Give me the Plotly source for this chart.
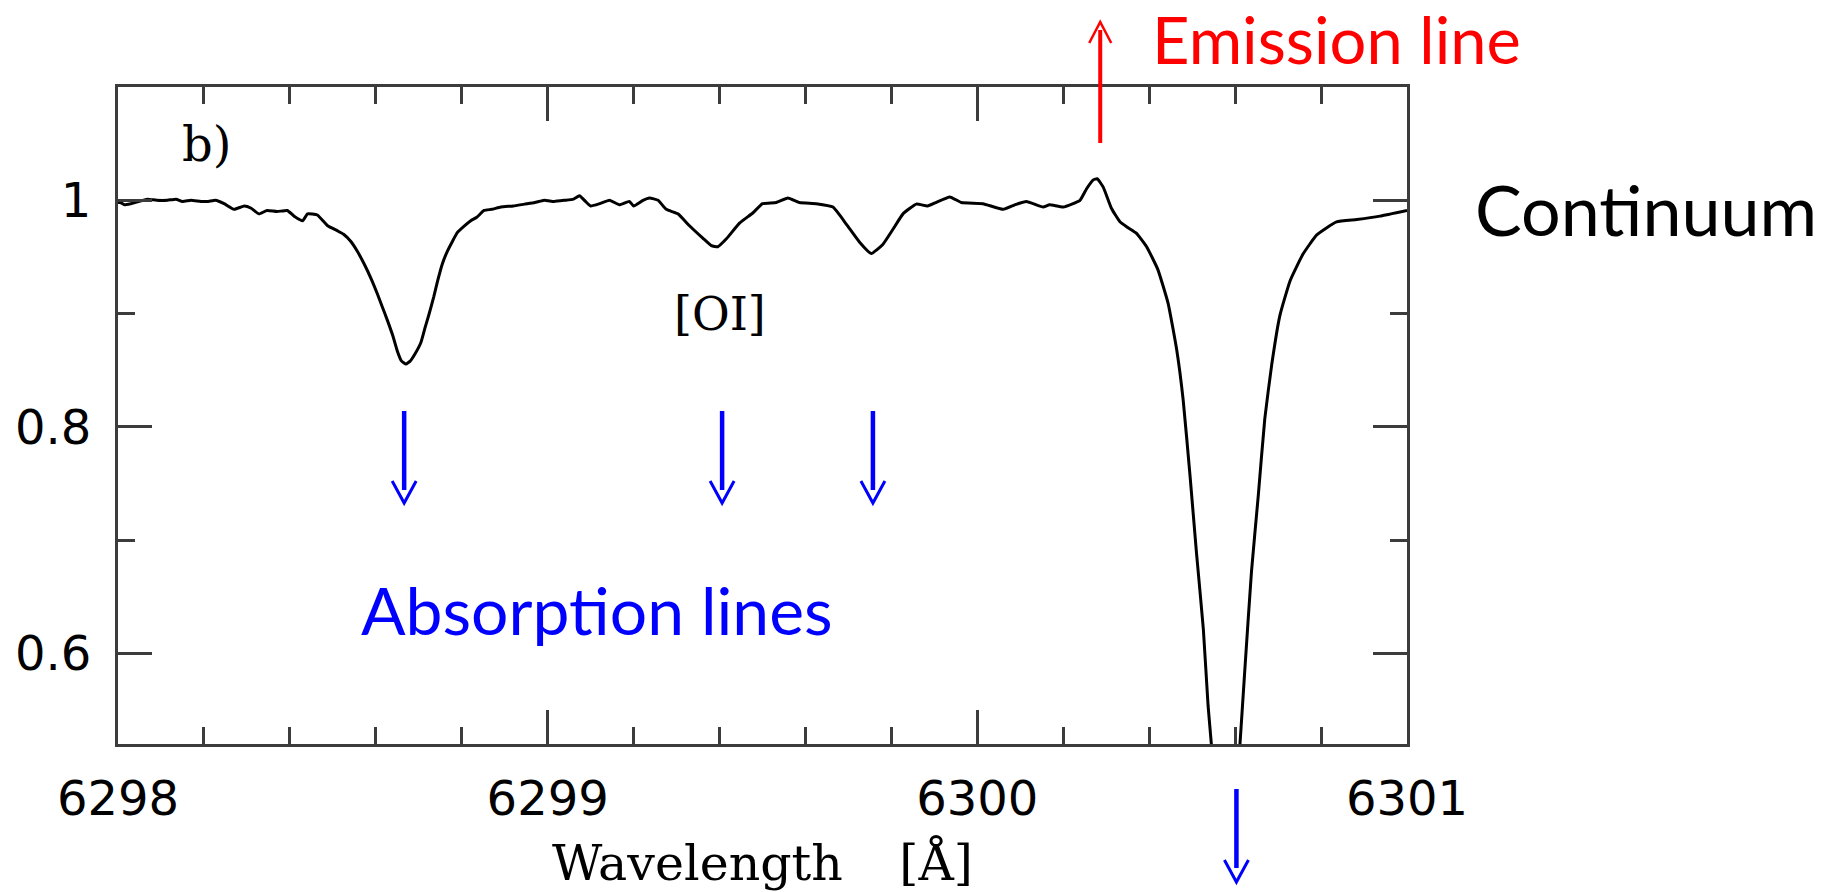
import plotly.graph_objects as go

# ---------------- data ----------------
wavelength = [
    6298.000, 6298.006, 6298.015, 6298.030, 6298.050, 6298.068, 6298.090, 6298.115,
    6298.135, 6298.150, 6298.170, 6298.193, 6298.210, 6298.227, 6298.247, 6298.270,
    6298.294, 6298.310, 6298.328, 6298.347, 6298.370, 6298.394, 6298.410, 6298.430,
    6298.441, 6298.464, 6298.488, 6298.511, 6298.525, 6298.542, 6298.557, 6298.573,
    6298.590, 6298.604, 6298.615, 6298.627, 6298.640, 6298.650, 6298.660, 6298.670,
    6298.680, 6298.689, 6298.705, 6298.715, 6298.724, 6298.735, 6298.744, 6298.755,
    6298.767, 6298.790, 6298.805, 6298.821, 6298.835, 6298.852, 6298.870, 6298.891,
    6298.920, 6298.946, 6298.970, 6298.992, 6299.015, 6299.040, 6299.060, 6299.074,
    6299.088, 6299.100, 6299.121, 6299.144, 6299.167, 6299.190, 6299.200, 6299.222,
    6299.237, 6299.257, 6299.276, 6299.303, 6299.330, 6299.361, 6299.381, 6299.396,
    6299.416, 6299.447, 6299.478, 6299.500, 6299.532, 6299.559, 6299.586, 6299.625,
    6299.664, 6299.695, 6299.726, 6299.753, 6299.780, 6299.804, 6299.827, 6299.858,
    6299.884, 6299.903, 6299.936, 6299.963, 6300.013, 6300.060, 6300.087, 6300.114,
    6300.153, 6300.168, 6300.200, 6300.239, 6300.254, 6300.270, 6300.279, 6300.293,
    6300.312, 6300.332, 6300.350, 6300.370, 6300.394, 6300.420, 6300.444, 6300.464,
    6300.479, 6300.495, 6300.510, 6300.526, 6300.537, 6300.545, 6300.578, 6300.611,
    6300.623, 6300.638, 6300.654, 6300.669, 6300.685, 6300.704, 6300.728, 6300.758,
    6300.790, 6300.836, 6300.883, 6300.937, 6301.000,
]
flux = [
    0.998, 0.998, 0.996, 0.997, 0.999, 1.001, 1.000, 1.000,
    1.001, 0.999, 1.000, 0.999, 0.999, 1.000, 0.997, 0.992,
    0.995, 0.993, 0.988, 0.991, 0.990, 0.991, 0.986, 0.982,
    0.988, 0.987, 0.9775, 0.973, 0.970, 0.9636, 0.955, 0.9437,
    0.930, 0.917, 0.906, 0.894, 0.880, 0.867, 0.858, 0.8554,
    0.858, 0.863, 0.8745, 0.888, 0.8996, 0.915, 0.929, 0.944,
    0.9554, 0.9716, 0.977, 0.982, 0.985, 0.991, 0.992, 0.994,
    0.995, 0.9966, 0.998, 1.000, 0.999, 1.000, 1.001, 1.004,
    0.999, 0.995, 0.997, 1.000, 0.996, 0.999, 0.995, 1.000,
    1.002, 1.000, 0.992, 0.988, 0.9775, 0.9666, 0.960, 0.959,
    0.966, 0.980, 0.989, 0.997, 0.998, 1.002, 0.998, 0.997,
    0.994, 0.979, 0.963, 0.953, 0.961, 0.9746, 0.988, 0.9966,
    0.995, 0.998, 1.003, 0.998, 0.997, 0.992, 0.996, 0.999,
    0.994, 0.996, 0.994, 1.000, 1.010, 1.018, 1.019, 1.0116,
    0.993, 0.981, 0.976, 0.971, 0.959, 0.939, 0.909, 0.868,
    0.824, 0.757, 0.689, 0.6215, 0.554, 0.5185, 0.350, 0.5185,
    0.588, 0.672, 0.740, 0.807, 0.8545, 0.898, 0.929, 0.9525,
    0.9694, 0.981, 0.983, 0.986, 0.991,
]

x_tickvals = [6298, 6299, 6300, 6301]
x_ticktext = ["6298", "6299", "6300", "6301"]
y_tickvals = [0.6, 0.8, 1.0]
y_ticktext = ["0.6", "0.8", "1"]

absorption_line_x = [6298.666, 6299.406, 6299.757]
saturated_line_x = [6300.603]
emission_line_x = [6300.286]

# ---------------- layout constants ----------------
W, H = 1842, 892
ML, MR, MT, MB = 118, 435, 87, 148
X_RANGE = [6298, 6301]
Y_RANGE = [0.520, 1.100]
AXIS_COLOR = "#3c3c3c"
BLUE = "#0000ff"
RED = "#ff0000"


def paper_x(px):
    return (px - ML) / (W - ML - MR)


def paper_y(py):
    return (H - MB - py) / (H - MT - MB)


fig = go.Figure()
fig.add_trace(go.Scatter(
    x=wavelength, y=flux, mode="lines",
    line=dict(color="black", width=3, shape="spline", smoothing=0.4),
    showlegend=False, hoverinfo="skip",
))

axis_common = dict(
    showgrid=False, zeroline=False, showline=True, mirror="allticks",
    linecolor=AXIS_COLOR, linewidth=3,
    ticks="inside", ticklen=34, tickwidth=2.5, tickcolor=AXIS_COLOR,
    tickfont=dict(family="DejaVu Sans", size=48, color="black"),
)

fig.update_xaxes(
    range=X_RANGE, tickvals=x_tickvals, ticktext=x_ticktext,
    minor=dict(ticks="inside", ticklen=17, dtick=0.2, tickwidth=2.5, tickcolor=AXIS_COLOR),
    ticklabelstandoff=10,
    title=dict(text="Wavelength\u00a0\u00a0\u00a0\u2009[Å]",
               font=dict(family="DejaVu Serif", size=49, color="black"), standoff=25),
    **axis_common,
)
fig.update_yaxes(
    range=Y_RANGE, tickvals=y_tickvals, ticktext=y_ticktext,
    minor=dict(ticks="inside", ticklen=17, dtick=0.1, tickwidth=2.5, tickcolor=AXIS_COLOR),
    ticklabelstandoff=14,
    **axis_common,
)

shapes = []
# blue arrows pointing down at the absorption lines
for ax in absorption_line_x:
    shapes.append(dict(type="line", xref="x", yref="paper", x0=ax, x1=ax,
                       y0=paper_y(411), y1=paper_y(490), line=dict(color=BLUE, width=4.5)))
    shapes.append(dict(type="path", xref="x", yref="paper", xsizemode="pixel", ysizemode="pixel",
                       xanchor=ax, yanchor=paper_y(503), path="M-12,22 L0,0 L12,22",
                       line=dict(color=BLUE, width=3)))
for ax in saturated_line_x:
    shapes.append(dict(type="line", xref="x", yref="paper", x0=ax, x1=ax,
                       y0=paper_y(789), y1=paper_y(868), line=dict(color=BLUE, width=4.5)))
    shapes.append(dict(type="path", xref="x", yref="paper", xsizemode="pixel", ysizemode="pixel",
                       xanchor=ax, yanchor=paper_y(882), path="M-12,22 L0,0 L12,22",
                       line=dict(color=BLUE, width=3)))
# red arrow pointing up at the emission line
for ax in emission_line_x:
    shapes.append(dict(type="line", xref="x", yref="paper", x0=ax, x1=ax,
                       y0=paper_y(143), y1=paper_y(30), line=dict(color=RED, width=4)))
    shapes.append(dict(type="path", xref="x", yref="paper", xsizemode="pixel", ysizemode="pixel",
                       xanchor=ax, yanchor=paper_y(22), path="M-11,-21 L0,0 L11,-21",
                       line=dict(color=RED, width=2.5)))

text_common = dict(xref="paper", yref="paper", showarrow=False,
                   xanchor="center", yanchor="middle")
annotations = [
    dict(text="Emission line", x=paper_x(1336), y=paper_y(39),
         font=dict(family="Lato", size=65, color=RED), **text_common),
    dict(text="Continuum", x=paper_x(1646), y=paper_y(209),
         font=dict(family="Lato", size=70, color="black"), **text_common),
    dict(text="Absorption lines", x=paper_x(597), y=paper_y(609),
         font=dict(family="Lato", size=66, color=BLUE), **text_common),
    dict(text="[OI]", x=paper_x(720), y=paper_y(314),
         font=dict(family="DejaVu Serif", size=46, color="black"), **text_common),
    dict(text="b)", x=paper_x(206), y=paper_y(144),
         font=dict(family="DejaVu Serif", size=48, color="black"), **text_common),
]

fig.update_layout(
    width=W, height=H,
    margin=dict(l=ML, r=MR, t=MT, b=MB, autoexpand=False),
    paper_bgcolor="white", plot_bgcolor="white",
    shapes=shapes, annotations=annotations,
    showlegend=False,
)

fig.write_html("out.html")
